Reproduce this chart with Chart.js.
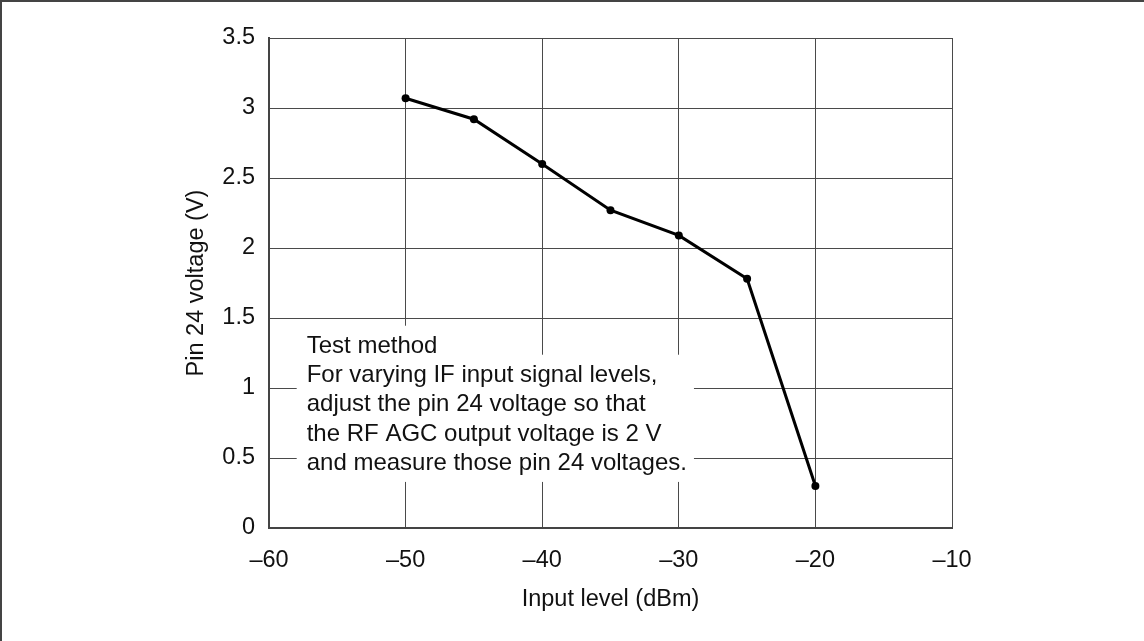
<!DOCTYPE html>
<html>
<head>
<meta charset="utf-8">
<script src="https://cdn.jsdelivr.net/npm/chart.js@4/dist/chart.umd.min.js"></script>
<style>
  html, body { margin: 0; padding: 0; background: #fff; }
  #wrap { position: relative; width: 1144px; height: 641px; overflow: hidden; }
  #frame { position: absolute; left: 0; top: 0; width: 1200px; height: 700px;
           border-top: 2px solid #444; border-left: 2px solid #444; pointer-events: none; }
  canvas { display: block; }
</style>
</head>
<body>
<div id="wrap">
  <canvas id="c" width="1144" height="641"></canvas>
  <div id="frame"></div>
</div>
<script>
// ---- Data ----
const inputLevel = [-50, -45, -40, -35, -30, -25, -20];          // dBm
const pin24Voltage = [3.07, 2.92, 2.60, 2.27, 2.09, 1.78, 0.30];  // V
const xTickValues = [-60, -50, -40, -30, -20, -10];
const yTickValues = [0, 0.5, 1, 1.5, 2, 2.5, 3, 3.5];
const xAxisTitle = 'Input level (dBm)';
const yAxisTitle = 'Pin 24 voltage (V)';
const noteLines = [
  'Test method',
  'For varying IF input signal levels,',
  'adjust the pin 24 voltage so that',
  'the RF AGC output voltage is 2 V',
  'and measure those pin 24 voltages.'
];
const noteAnchor = { x: -57.24, y: 1.252 }; // data position of first line's baseline start

const FONT = '"Liberation Sans", Arial, Helvetica, sans-serif';
const points = inputLevel.map((x, i) => ({ x: x, y: pin24Voltage[i] }));

const fmt = v => (v < 0 ? '\u2013' + Math.abs(v) : String(v));

const notePlugin = {
  id: 'note',
  beforeDatasetsDraw(chart) {
    const ctx = chart.ctx;
    const xs = chart.scales.x, ys = chart.scales.y;
    const x0 = xs.getPixelForValue(noteAnchor.x);
    const y0 = ys.getPixelForValue(noteAnchor.y);
    const lh = 29.3;
    ctx.save();
    ctx.font = '24px ' + FONT;
    const widths = noteLines.map(t => ctx.measureText(t).width);
    const maxW = Math.max(...widths.slice(1));
    ctx.fillStyle = '#ffffff';
    ctx.fillRect(x0 - 10, y0 - 27, widths[0] + 20, 30);
    ctx.fillRect(x0 - 10, y0 + 2, maxW + 17, lh * (noteLines.length - 1) + 10);
    ctx.fillStyle = '#111';
    ctx.textBaseline = 'alphabetic';
    ctx.textAlign = 'left';
    noteLines.forEach((t, i) => ctx.fillText(t, x0, y0 + i * lh));
    ctx.restore();
  }
};

new Chart(document.getElementById('c'), {
  type: 'line',
  data: {
    datasets: [{
      data: points,
      borderColor: '#000',
      backgroundColor: '#000',
      borderWidth: 3,
      pointRadius: 4,
      pointHoverRadius: 4,
      pointBackgroundColor: '#000',
      pointBorderWidth: 0,
      tension: 0,
      fill: false
    }]
  },
  options: {
    responsive: false,
    animation: false,
    devicePixelRatio: 1,
    layout: { padding: { left: 170, right: 192, top: 38, bottom: 0 } },
    plugins: { legend: { display: false }, tooltip: { enabled: false } },
    scales: {
      x: {
        type: 'linear',
        min: -60, max: -10,
        afterBuildTicks: s => { s.ticks = xTickValues.map(v => ({ value: v })); },
        afterFit: s => { s.height = 113; },
        grid: { color: '#4a4a4a', lineWidth: 1, drawTicks: false },
        border: { color: '#444', width: 2 },
        ticks: { color: '#111', font: { family: FONT, size: 23.5 }, padding: 18, callback: v => fmt(v), maxRotation: 0 },
        title: { display: true, text: xAxisTitle, color: '#111', font: { family: FONT, size: 23.5 }, padding: { top: 0, bottom: 27 } }
      },
      y: {
        type: 'linear',
        min: 0, max: 3.5,
        afterBuildTicks: s => { s.ticks = yTickValues.map(v => ({ value: v })); },
        afterFit: s => { s.width = 99; },
        grid: { color: '#4a4a4a', lineWidth: 1, drawTicks: false },
        border: { color: '#444', width: 2 },
        ticks: { color: '#111', font: { family: FONT, size: 23.5 }, padding: 14, callback: v => fmt(v) },
        title: { display: true, text: yAxisTitle, color: '#111', font: { family: FONT, size: 23.5 }, padding: { top: 12, bottom: 0 } }
      }
    }
  },
  plugins: [notePlugin]
});
</script>
</body>
</html>
